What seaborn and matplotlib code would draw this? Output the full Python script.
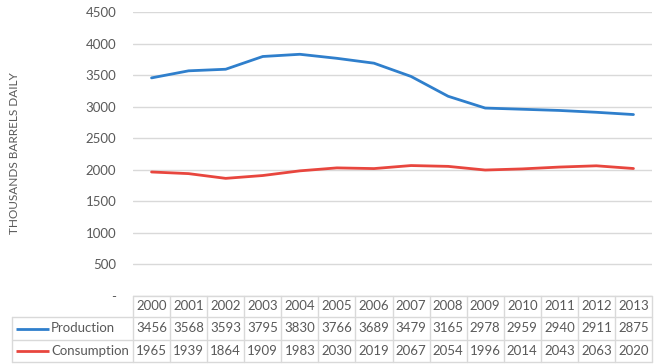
import matplotlib
matplotlib.use("Agg")
import matplotlib.pyplot as plt
import matplotlib.ticker as mticker
import matplotlib.transforms as mtransforms
import seaborn as sns
import pandas as pd

# ---- data ----
years = [2000, 2001, 2002, 2003, 2004, 2005, 2006, 2007, 2008, 2009, 2010, 2011, 2012, 2013]
production = [3456, 3568, 3593, 3795, 3830, 3766, 3689, 3479, 3165, 2978, 2959, 2940, 2911, 2875]
consumption = [1965, 1939, 1864, 1909, 1983, 2030, 2019, 2067, 2054, 1996, 2014, 2043, 2063, 2020]
series_names = ["Production", "Consumption"]
y_ticks = [0, 500, 1000, 1500, 2000, 2500, 3000, 3500, 4000, 4500]

BLUE = "#2f7fcc"
RED = "#e8463e"
GREY = "#595959"
GRID = "#d9d9d9"

df = pd.DataFrame({
    "Year": years * 2,
    "Value": production + consumption,
    "Series": [series_names[0]] * len(years) + [series_names[1]] * len(years),
})

sns.set_theme(style="white")
plt.rcParams["font.family"] = ["Lato", "DejaVu Sans"]

W, H = 656, 364
fig = plt.figure(figsize=(W / 100, H / 100), dpi=100)
left, right, top, bottom = 133, 652, 12, 296
plot_w = right - left
plot_h = bottom - top
ax = fig.add_axes([left / W, 1 - bottom / H, plot_w / W, plot_h / H])

sns.lineplot(data=df, x="Year", y="Value", hue="Series", palette=[BLUE, RED],
             linewidth=2.0, ax=ax, legend=False)

ax.set_xlim(years[0] - 0.5, years[-1] + 0.5)
ax.set_ylim(0, 4500)
ax.set_yticks(y_ticks)
ax.yaxis.set_major_formatter(mticker.FuncFormatter(lambda v, p: "-" if v == 0 else f"{int(v)}"))
ax.tick_params(axis="y", length=0, pad=12, labelsize=9.5, labelcolor=GREY)
ax.set_xticks([])
ax.set_xlabel("")
ax.set_ylabel("")
ax.grid(axis="y", color=GRID, linewidth=1)
for s in ax.spines.values():
    s.set_visible(False)

fig.text(15 / W, 1 - 153 / H, "THOUSANDS BARRELS DAILY", rotation=90,
         ha="center", va="center", fontsize=8.5, color=GREY)

# ---- data table (drawn by hand under the axes) ----
trans = mtransforms.blended_transform_factory(ax.transData, ax.transAxes)
tbl_bottom = 362
row_edges_px = [296, 317, 340, 362]
row_edges = [-(p - bottom) / plot_h for p in row_edges_px]
x_lab = (12 - left) / plot_w  # left edge of label column, axes coords
x0, x1 = years[0] - 0.5, years[-1] + 0.5
line_kw = dict(color=GRID, linewidth=1, clip_on=False)

# horizontal lines
ax.plot([x0, x1], [row_edges[0]] * 2, transform=trans, **line_kw)
for ye in row_edges[1:]:
    ax.plot([x_lab, 1], [ye, ye], transform=ax.transAxes, **line_kw)
# vertical lines
for k in range(len(years) + 1):
    ax.plot([x0 + k] * 2, [row_edges[0], row_edges[-1]], transform=trans, **line_kw)
ax.plot([x_lab] * 2, [row_edges[1], row_edges[-1]], transform=ax.transAxes, **line_kw)

rows = [years, production, consumption]
for r, vals in enumerate(rows):
    yc = (row_edges[r] + row_edges[r + 1]) / 2
    for yr, v in zip(years, vals):
        ax.text(yr, yc, str(v), transform=trans, ha="center", va="center",
                fontsize=9.5, color=GREY)

for i, (name, color) in enumerate(zip(series_names, [BLUE, RED])):
    yc = (row_edges[i + 1] + row_edges[i + 2]) / 2
    ax.plot([(16 - left) / plot_w, (49 - left) / plot_w], [yc, yc], color=color,
            linewidth=2.0, transform=ax.transAxes, clip_on=False, solid_capstyle="butt")
    ax.text((51 - left) / plot_w, yc, name, transform=ax.transAxes, ha="left",
            va="center", fontsize=9.5, color=GREY)

fig.savefig("out.png", dpi=100)
